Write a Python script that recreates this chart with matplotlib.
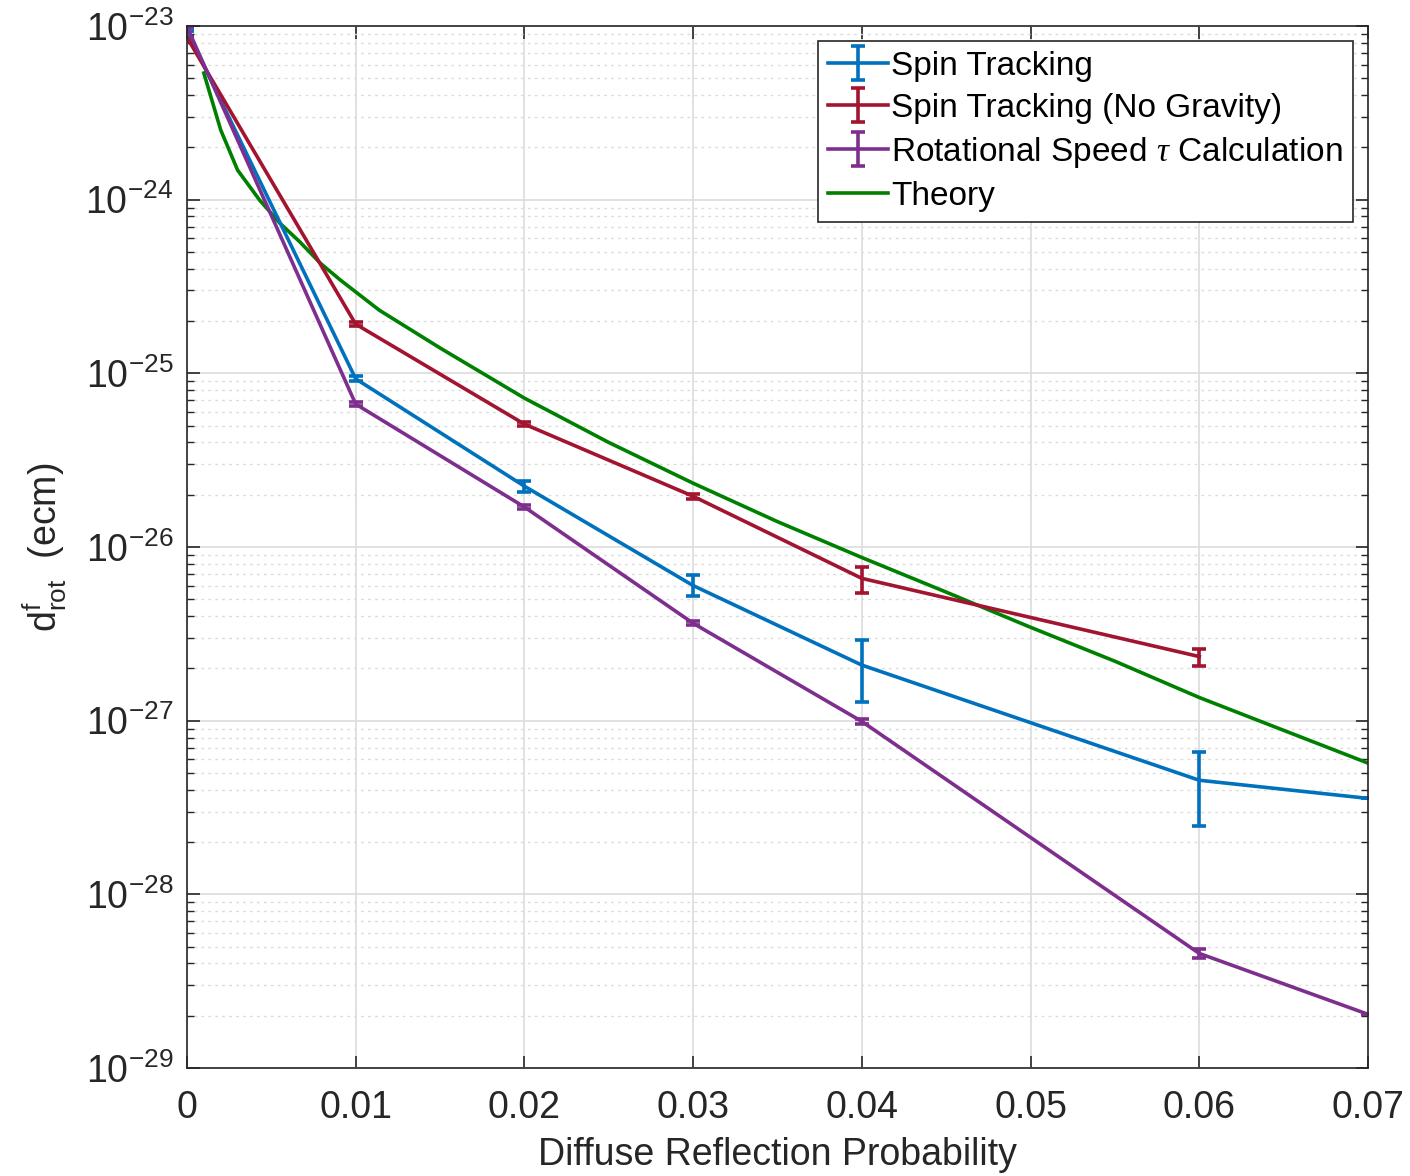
import numpy as np
import matplotlib
matplotlib.use("Agg")
import matplotlib.pyplot as plt
from matplotlib.ticker import FixedLocator, LogLocator, NullFormatter

plt.rcParams['font.family'] = ['Liberation Sans', 'DejaVu Sans']
plt.rcParams['mathtext.fontset'] = 'custom'
plt.rcParams['mathtext.rm'] = 'Liberation Sans'
plt.rcParams['mathtext.it'] = 'Liberation Serif:italic'

# data
p_sim = [0.0, 0.01, 0.02, 0.03, 0.04, 0.06, 0.07]
spin = [9.4e-24, 9.3e-26, 2.24e-26, 6.0e-27, 2.09e-27, 4.54e-28, 3.57e-28]
spin_lo = [0, 0.3e-26, 0.17e-26, 0.8e-27, 0.81e-27, 2.08e-28, 0]
spin_hi = [0, 0.3e-26, 0.17e-26, 0.87e-27, 0.81e-27, 2.06e-28, 0]

p_nog = [0.0, 0.01, 0.02, 0.03, 0.04, 0.06]
nograv = [8.6e-24, 1.92e-25, 5.1e-26, 1.96e-26, 6.6e-27, 2.34e-27]
nograv_lo = [0, 0.05e-25, 0.15e-26, 0.06e-26, 1.18e-27, 0.28e-27]
nograv_hi = [0, 0.05e-25, 0.15e-26, 0.06e-26, 1.05e-27, 0.26e-27]

p_rot = [0.0, 0.01, 0.02, 0.03, 0.04, 0.06, 0.07]
rot = [9.9e-24, 6.65e-26, 1.7e-26, 3.64e-27, 9.9e-28, 4.57e-29, 2.04e-29]
rot_err = [0, 0.15e-26, 0.04e-26, 0.1e-27, 0.3e-28, 0.25e-29, 0]

p_th = [0.001, 0.002, 0.003, 0.0043, 0.0055, 0.0067, 0.0079, 0.0091, 0.0114,
        0.015, 0.02, 0.025, 0.03, 0.035, 0.04, 0.045, 0.05, 0.055, 0.06, 0.065, 0.07]
theory = [5.36e-24, 2.52e-24, 1.48e-24, 9.96e-25, 7.33e-25, 5.7e-25, 4.31e-25, 3.44e-25, 2.31e-25,
          1.4e-25, 7.2e-26, 4.0e-26, 2.33e-26, 1.4e-26, 8.7e-27, 5.5e-27, 3.45e-27, 2.2e-27,
          1.36e-27, 8.8e-28, 5.7e-28]

labels = ['Spin Tracking', 'Spin Tracking (No Gravity)',
          r'Rotational Speed $\tau$ Calculation', 'Theory']

fig = plt.figure(figsize=(14.1, 11.76), dpi=100)
ax = fig.add_axes([0.1326, 0.0918, 0.8376, 0.8861])

lw = 2.6
h1 = ax.errorbar(p_sim, spin, yerr=[spin_lo, spin_hi], color='#0072BD', lw=lw,
                 elinewidth=lw, capsize=5, capthick=lw)
h2 = ax.errorbar(p_nog, nograv, yerr=[nograv_lo, nograv_hi], color='#A2142F', lw=lw,
                 elinewidth=lw, capsize=5, capthick=lw)
h3 = ax.errorbar(p_rot, rot, yerr=rot_err, color='#7E2F8E', lw=lw,
                 elinewidth=lw, capsize=5, capthick=lw)
h4, = ax.plot(p_th, theory, color='#008000', lw=lw)

ax.set_yscale('log')
ax.set_xlim(0, 0.07)
ax.set_ylim(1e-29, 1e-23)
ax.xaxis.set_major_locator(FixedLocator([0, 0.01, 0.02, 0.03, 0.04, 0.05, 0.06, 0.07]))
ax.set_xticklabels(['0', '0.01', '0.02', '0.03', '0.04', '0.05', '0.06', '0.07'])
decades = list(range(-29, -22))
ax.yaxis.set_major_locator(FixedLocator([10.0 ** d for d in decades]))
ax.set_yticklabels([r'$\mathregular{10^{-%d}}$' % (-d) for d in decades])
ax.yaxis.set_minor_locator(LogLocator(base=10, subs=np.arange(2, 10), numticks=20))
ax.yaxis.set_minor_formatter(NullFormatter())

ax.tick_params(axis='both', which='major', direction='in', labelsize=27,
               length=9, width=1.2, colors='#262626', top=True, right=True)
ax.tick_params(axis='x', which='major', pad=16)
ax.tick_params(axis='y', which='major', pad=10)
ax.tick_params(axis='y', which='minor', direction='in', length=5, width=1.0,
               colors='#262626', right=True)
for s in ax.spines.values():
    s.set_color('#262626')
    s.set_linewidth(1.2)

ax.grid(True, which='major', color='#dcdcdc', lw=1.2)
ax.grid(True, which='minor', axis='y', color='#dcdcdc', lw=1.0, ls=(0, (2, 3)))
ax.set_axisbelow(True)

ax.set_xlabel('Diffuse Reflection Probability', fontsize=27, color='#262626', labelpad=8)
ax.set_ylabel(r'$\mathregular{d^{f}_{rot}}$  (ecm)', fontsize=27, color='#262626', labelpad=12)

leg = ax.legend([h1, h2, h3, h4], labels,
                loc='upper right', bbox_to_anchor=(0.987, 0.986), fontsize=24,
                fancybox=False, framealpha=1, edgecolor='#262626', handlelength=1.8,
                handletextpad=0.1, borderpad=0.3, labelspacing=0.33, borderaxespad=0)
leg.get_frame().set_linewidth(1.2)

fig.savefig('out.png', dpi=100)
